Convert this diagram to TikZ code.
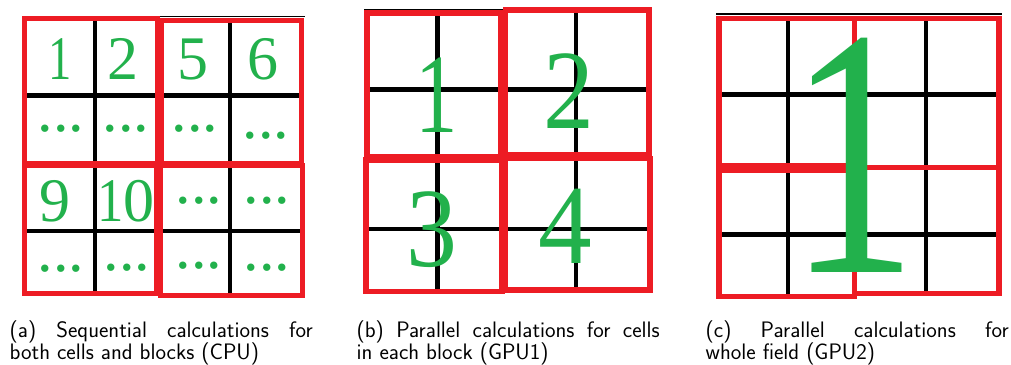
\documentclass[tikz,border=0pt]{standalone}
\usepackage{fontspec}
\newfontfamily\numfont{Liberation Serif}
\definecolor{pgreen}{HTML}{22B14C}
\definecolor{pred}{HTML}{ED1C24}
\newcommand{\narrowone}[1][0.75]{\scalebox{#1}[1]{1}}
\newcommand{\capfont}{\sffamily\fontsize{22.4}{22}\selectfont\lineskiplimit=-100pt\relax}
\begin{document}
\begin{tikzpicture}[x=1pt,y=-1pt,
  gl/.style={black, line width=4.5pt},
  ol/.style={black, line width=1.5pt},
  rba/.style={draw=pred, line width=5pt},
  rbb/.style={draw=pred, line width=5.5pt},
  numa/.style={text=pgreen, font=\numfont\fontsize{62}{62}\selectfont, inner sep=0pt, anchor=base},
  numb/.style={text=pgreen, font=\numfont\fontsize{113}{113}\selectfont, inner sep=0pt, anchor=base},
  numc/.style={text=pgreen, font=\numfont\fontsize{355}{355}\selectfont, inner sep=0pt, anchor=base},
  captext/.style={text width=303pt, align=justify, inner sep=0pt, anchor=north west,
    font=\capfont}
]
\useasboundingbox (0,0) rectangle (1011,364);

% ---------- panel (a) ----------
\draw[ol] (158,16.25) -- (304.5,16.25);
\draw[gl] (95,18) -- (95,294);
\draw[gl] (230,18) -- (230,294);
\draw[gl] (24,95.5) -- (303,95.5);
\draw[gl] (24,231) -- (303,231);
\draw[rba] (24.5,18.5) rectangle (157,163);
\draw[rba] (161,20) rectangle (301.5,163);
\draw[rba] (24.5,165) rectangle (156,293.5);
\draw[rba] (160.5,165) rectangle (302.5,295.5);

\node[numa] (a1) at (60,79) {\narrowone};
\node[numa] (a2) at (123,79) {2};
\node[numa] (a5) at (193,79) {5};
\node[numa] (a6) at (262.5,79) {6};
\node[numa] (a9) at (55,221) {9};
\node[numa] (a10) at (126,221) {\narrowone[0.85]0};
\node[numa] (d21) at (61,131) {...};
\node[numa] (d22) at (126,131) {...};
\node[numa] (d23) at (195,131) {...};
\node[numa] (d24) at (266,138) {...};
\node[numa] (d33) at (199,203) {...};
\node[numa] (d34) at (267,203) {...};
\node[numa] (d41) at (61,271) {...};
\node[numa] (d42) at (127,270) {...};
\node[numa] (d43) at (199,268) {...};
\node[numa] (d44) at (267,270) {...};

% ---------- panel (b) ----------
\draw[ol] (364,9.5) -- (503,9.5);
\draw[gl] (437.5,12) -- (437.5,290);
\draw[gl] (576,12) -- (576,290);
\draw[gl] (366,89.5) -- (649,89.5);
\draw[gl] (366,229) -- (649,229);
\draw[rbb] (367,13) rectangle (501,156.5);
\draw[rbb] (505.5,10) rectangle (649,154.5);
\draw[rbb] (366,160) rectangle (502,291.5);
\draw[rbb] (505,158.5) rectangle (650,290);

\node[numb] (b1) at (437,132) {\narrowone};
\node[numb] (b2) at (569,128) {\scalebox{0.9}[1]{2}};
\node[numb] (b3) at (432,266) {\scalebox{0.9}[1]{3}};
\node[numb] (b4) at (565,263) {\scalebox{0.95}[1]{4}};

% ---------- panel (c) ----------
\draw[ol] (716,14) -- (1002,14);
\draw[gl] (788,16) -- (788,296);
\draw[gl] (926,16) -- (926,296);
\draw[gl] (718,94.5) -- (1000,94.5);
\draw[gl] (718,234.5) -- (1000,234.5);
\draw[rbb] (719,18.5) rectangle (854.5,166);
\draw[rbb] (854.5,18.5) rectangle (999,167.5);
\draw[rbb] (719,170) rectangle (854.5,296.5);
\draw[rbb] (854.5,167.5) rectangle (999,293.5);

\node[numc] (c1) at (853.5,272) {\narrowone[0.72]};

% ---------- captions ----------
\node[captext] (capa) at (9.5,320.2) {(a) Sequential calculations for\linebreak both cells and blocks (CPU)};
\node[captext] (capb) at (356.5,320.2) {(b) Parallel calculations for cells\linebreak in each block (GPU1)};
\node[captext] (capc) at (705.5,320.2) {(c) Parallel calculations for\linebreak whole field (GPU2)};
\end{tikzpicture}
\end{document}
